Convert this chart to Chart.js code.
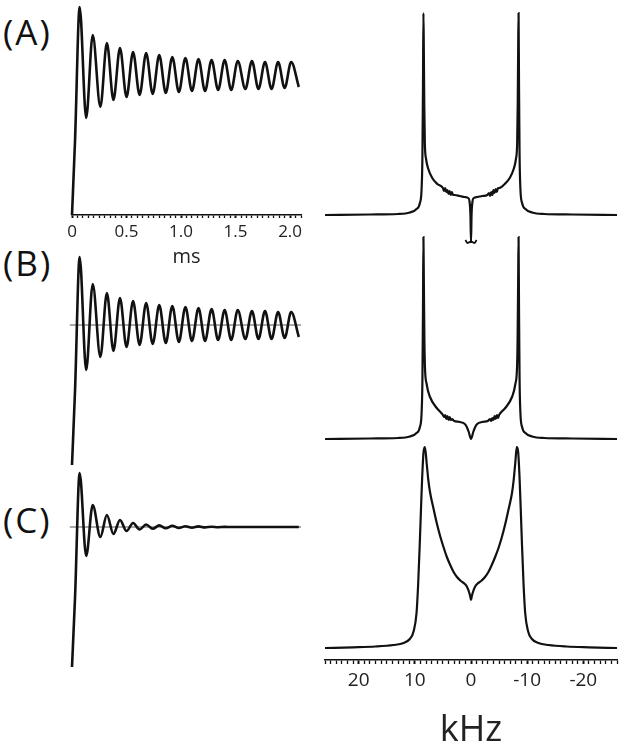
<!DOCTYPE html>
<html>
<head>
<meta charset="utf-8">
<script src="https://cdn.jsdelivr.net/npm/chart.js@4.4.1/dist/chart.umd.min.js"></script>
<style>
  body { margin: 0; background: #fff; width: 627px; height: 750px; position: relative; overflow: hidden; font-family: "Open Sans", sans-serif; }
  canvas { position: absolute; }
  .tag { position: absolute; left: 3px; font-size: 35px; letter-spacing: 2px; line-height: 1; color: #111; }
</style>
</head>
<body>
<div class="tag" style="top:14px">(A)</div>
<div class="tag" style="top:245px">(B)</div>
<div class="tag" style="top:502px">(C)</div>

<canvas id="fidA" width="250" height="270" style="left:62px; top:0px"></canvas>
<canvas id="fidB" width="250" height="228" style="left:62px; top:246px"></canvas>
<canvas id="fidC" width="250" height="215" style="left:62px; top:461px"></canvas>
<canvas id="specA" width="312" height="250" style="left:315px; top:4px"></canvas>
<canvas id="specB" width="312" height="220" style="left:315px; top:228px"></canvas>
<canvas id="specC" width="312" height="317" style="left:315px; top:436px"></canvas>

<script>
// time domain (ms) – start, rise, then peak/trough pairs
const timeMs = [0, 0.028, 0.07, 0.13, 0.19, 0.26, 0.32, 0.38, 0.44, 0.50, 0.56, 0.62, 0.68, 0.74,
  0.80, 0.86, 0.92, 0.98, 1.04, 1.10, 1.16, 1.22, 1.28, 1.34, 1.40, 1.46, 1.52, 1.59, 1.65, 1.71,
  1.77, 1.83, 1.89, 1.95, 2.01, 2.08];
const sigA = [0, 75, 208, 97, 180, 108, 172, 115, 167, 118, 163, 120, 162, 121, 160, 122, 158, 123,
  157, 124, 156, 124, 155, 125, 155, 125, 154, 126, 154, 126, 153, 126, 153, 127, 153, 128];
const sigB = [-140, -65, 68, -45, 41, -32, 32, -26, 27, -22, 24, -20, 22, -19, 20, -18, 19, -17,
  18, -16, 17, -16, 16, -15, 15, -15, 15, -14, 14, -14, 14, -14, 13, -13, 13, -12];
const sigC = [-140, -70, 54, -29, 22, -10, 12, -7, 7, -4, 4, -2.5, 2.5, -1.8, 1.6, -1.3, 1.2, -1,
  0.8, -0.7, 0.6, -0.4, 0.3, -0.2, 0.1, 0, 0, 0, 0, 0, 0, 0, 0, 0, 0, 0];
const zeroLineMs = [-0.02, 2.1];

// spectra (kHz, plotted high -> low)
const freqA = [26, 18, 13, 10.9, 9.7, 9.1, 8.8, 8.65, 8.55, 8.47, 8.4, 8.32, 8.22, 8.0, 7.6, 6.9, 6.0, 5.0,
  4.8, 4.6, 4.4, 4.2, 4.0, 3.8, 3.6, 3.4, 3.2, 2.9, 2.0, 1.1, 0.5, 0.25, 0.1, 0,
  -0.1, -0.25, -0.5, -1.1, -2.0, -2.9, -3.2, -3.4, -3.6, -3.8, -4.0, -4.2, -4.4, -4.6, -4.8,
  -5.0, -6.0, -6.9, -7.6, -8.0, -8.22, -8.32, -8.4, -8.47, -8.55, -8.65, -8.8, -9.1, -9.7, -10.9, -13, -18, -26];
const specA = [0, 0.5, 1, 2.5, 6, 12, 26, 60, 130, 202, 165, 110, 72, 56, 46, 37, 31, 27,
  24, 27, 23, 25, 21, 24, 20, 23, 20, 20, 19, 18, 17, 13, 0, -27,
  0, 13, 17, 18, 19, 20, 22, 19, 23, 20, 25, 22, 26, 23, 27,
  27, 31, 37, 46, 56, 72, 110, 165, 202, 130, 60, 26, 12, 6, 2.5, 1, 0.5, 0];
const curlFreqA = [1.0, 0.6, 0.2, -0.2, -0.6, -1.0];
const curlA = [-25, -28, -27, -27, -28, -25];

const freqB = [26, 18, 13, 10.9, 9.7, 9.1, 8.8, 8.65, 8.55, 8.47, 8.4, 8.3, 8.2, 7.9, 7.3, 6.1, 5.0,
  4.8, 4.6, 4.4, 4.2, 4.0, 3.8, 3.6, 3.4, 3.0, 2.0, 1.1, 0.75, 0.4, 0,
  -0.4, -0.75, -1.1, -2.0, -3.0, -3.4, -3.6, -3.8, -4.0, -4.2, -4.4, -4.6, -4.8,
  -5.0, -6.1, -7.3, -7.9, -8.2, -8.3, -8.4, -8.47, -8.55, -8.65, -8.8, -9.1, -9.7, -10.9, -13, -18, -26];
const specB = [0, 0.5, 1, 2.5, 6, 12, 26, 60, 130, 202, 160, 100, 72, 55, 42, 31, 24,
  22, 24, 20, 23, 19, 22, 19, 20, 18, 17, 15, 12, 7, 0,
  7, 12, 15, 17, 18, 20, 18, 21, 19, 23, 20, 24, 21,
  24, 31, 42, 55, 72, 100, 160, 202, 130, 60, 26, 12, 6, 2.5, 1, 0.5, 0];

const freqC = [26, 21, 17, 13.8, 12, 10.9, 10.2, 9.7, 9.4, 9.1, 8.9, 8.7, 8.45, 8.2, 7.9, 7.6, 7.3,
  6.7, 6.1, 5.5, 4.9, 4.3, 3.7, 3.1, 2.5, 1.8, 1.1, 0.7, 0.35, 0.15, 0,
  -0.15, -0.35, -0.7, -1.1, -1.8, -2.5, -3.1, -3.7, -4.3, -4.9, -5.5, -6.1, -6.7, -7.3, -7.6, -7.9,
  -8.15, -8.4, -8.65, -8.85, -9.05, -9.35, -9.65, -10.15, -10.85, -12, -13.8, -17, -21, -26];
const specC = [0, 0.7, 1.5, 3, 5, 9, 17, 35, 65, 108, 140, 170, 196, 201, 185, 168, 156,
  140, 125, 112, 101, 91, 83, 76, 71, 67, 64, 61, 56, 52, 48,
  52, 56, 61, 64, 67, 71, 76, 83, 91, 100, 111, 124, 139, 155, 168, 186,
  201, 196, 170, 140, 108, 65, 35, 17, 9, 5, 3, 1.5, 0.7, 0];

// axis ticks
const msTicks = [0, 0.5, 1.0, 1.5, 2.0];
const msTickLabels = ['0', '0.5', '1.0', '1.5', '2.0'];
const kHzTicks = [20, 10, 0, -10, -20];
const kHzTickLabels = ['20', '10', '0', '-10', '-20'];

const ink = '#111';
const textCol = '#222';

function series(xs, ys, width, color) {
  return {
    data: xs.map((x, i) => ({ x, y: ys[i] })),
    borderColor: color, borderWidth: width, pointRadius: 0,
    cubicInterpolationMode: 'monotone', fill: false, clip: false
  };
}

function pickLabel(v, ticks, labels) {
  const i = ticks.findIndex(t => Math.abs(t - v) < 1e-6);
  return i >= 0 ? labels[i] : '';
}

function panel(id, datasets, xScale, yMin, yMax, pad) {
  return new Chart(document.getElementById(id), {
    type: 'line',
    data: { datasets },
    options: {
      responsive: false, animation: false, devicePixelRatio: 1,
      layout: { padding: pad },
      plugins: { legend: { display: false }, tooltip: { enabled: false } },
      scales: { x: xScale, y: { display: false, min: yMin, max: yMax } }
    }
  });
}

const msGrid = [];
for (let i = 0; i <= 42; i++) msGrid.push(+(i * 0.05).toFixed(2));
const kHzGrid = [];
for (let k = -26; k <= 26; k++) kHzGrid.push(k);

const msAxis = {
  type: 'linear', min: 0, max: 2.1,
  afterBuildTicks: s => { s.ticks = msGrid.map(v => ({ value: v })); },
  afterFit: s => { s.height = 55; },
  border: { display: true, color: ink, width: 1.5 },
  grid: { drawOnChartArea: false, drawTicks: true, tickLength: 3, tickColor: ink,
    tickWidth: c => pickLabel(c.tick.value, msTicks, msTickLabels) ? 2 : 1.3 },
  ticks: { autoSkip: false, maxRotation: 0, padding: 4, color: textCol,
    font: { family: 'Open Sans', size: 17 },
    callback: v => pickLabel(v, msTicks, msTickLabels) },
  title: { display: true, text: 'ms', color: textCol,
    font: { family: 'Open Sans', size: 20 }, padding: { top: 0, bottom: 1 } }
};
const msHidden = { type: 'linear', display: false, min: 0, max: 2.1 };

const kHzAxis = {
  type: 'linear', min: -26, max: 26, reverse: true,
  afterBuildTicks: s => { s.ticks = kHzGrid.map(v => ({ value: v })); },
  afterFit: s => { s.height = 93; },
  border: { display: true, color: ink, width: 1.5 },
  grid: { drawOnChartArea: false, drawTicks: true, tickLength: 4, tickColor: ink,
    tickWidth: c => pickLabel(c.tick.value, kHzTicks, kHzTickLabels) ? 2 : 1.3 },
  ticks: { autoSkip: false, maxRotation: 0, padding: 5, color: textCol,
    font: { family: 'Open Sans', size: 19 },
    callback: v => pickLabel(v, kHzTicks, kHzTickLabels) },
  title: { display: true, text: 'kHz', color: textCol,
    font: { family: 'Open Sans', size: 36 }, padding: { top: 0, bottom: 1 } }
};
const kHzHidden = { type: 'linear', display: false, min: -26, max: 26, reverse: true };

// left column: time signals
panel('fidA', [series(timeMs, sigA, 2.6, ink)], msAxis, 0, 211,
  { left: 10, right: 11, top: 4, bottom: 0 });
panel('fidB', [series(timeMs, sigB, 2.6, ink), series(zeroLineMs, [0, 0], 1, '#555')], msHidden, -145, 75,
  { left: 10, right: 11, top: 4, bottom: 4 });
panel('fidC', [series(timeMs, sigC, 2.6, ink), series(zeroLineMs, [0, 0], 1, '#555')], msHidden, -145, 62,
  { left: 10, right: 11, top: 4, bottom: 4 });

// right column: spectra
panel('specA', [series(freqA, specA, 2.2, ink), series(curlFreqA, curlA, 1.8, ink)], kHzHidden, -35, 207,
  { left: 10, right: 10, top: 4, bottom: 4 });
panel('specB', [series(freqB, specB, 2.2, ink)], kHzHidden, -5, 207,
  { left: 10, right: 10, top: 4, bottom: 4 });
panel('specC', [series(freqC, specC, 2.2, ink)], kHzAxis, -12, 208,
  { left: 10, right: 10, top: 4, bottom: 0 });
</script>
</body>
</html>
